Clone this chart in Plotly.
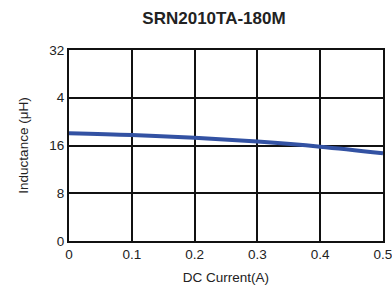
import plotly.graph_objects as go

current = [0, 0.1, 0.2, 0.3, 0.4, 0.5]
inductance = [18.05, 17.75, 17.3, 16.65, 15.8, 14.7]
y_tickvals = [0, 8, 16, 24, 32]
y_ticktext = ["0", "8", "16", "4", "32"]
x_tickvals = [0, 0.1, 0.2, 0.3, 0.4, 0.5]
x_ticktext = ["0", "0.1", "0.2", "0.3", "0.4", "0.5"]

fam = "Liberation Sans, Arial, sans-serif"
tickfont = dict(family=fam, size=13.5, color="#222")
titlefont = dict(family=fam, size=13.5, color="#222")

fig = go.Figure()
fig.add_trace(go.Scatter(x=current, y=inductance, mode="lines",
                         line=dict(color="#3352a3", width=4, shape="spline"),
                         showlegend=False, cliponaxis=False))
fig.update_layout(
    width=392, height=289,
    margin=dict(l=69, r=9, t=50, b=48, autoexpand=False),
    paper_bgcolor="white", plot_bgcolor="white",
    title=dict(text="<b>SRN2010TA-180M</b>", x=214/392, xanchor="center",
               y=1 - 18/289, yanchor="middle",
               font=dict(family=fam, size=17, color="#222")),
    xaxis=dict(range=[0, 0.5], tickvals=x_tickvals, ticktext=x_ticktext,
               showgrid=True, gridcolor="#111", gridwidth=1.5,
               showline=True, linecolor="#111", linewidth=2, mirror=True,
               zeroline=False, ticks="", tickfont=tickfont, automargin=False,
               ticklabeloverflow="allow",
               title=dict(text="DC Current(A)", font=titlefont, standoff=11)),
    yaxis=dict(range=[0, 32], tickvals=y_tickvals, ticktext=y_ticktext,
               showgrid=True, gridcolor="#111", gridwidth=1.5,
               showline=True, linecolor="#111", linewidth=2, mirror=True,
               zeroline=False, ticks="", tickfont=tickfont, automargin=False,
               title=dict(text="Inductance (μH)", font=titlefont, standoff=18)),
)
fig.write_html("out.html", config={"displayModeBar": False},
               post_script="document.body.style.margin='0';")
